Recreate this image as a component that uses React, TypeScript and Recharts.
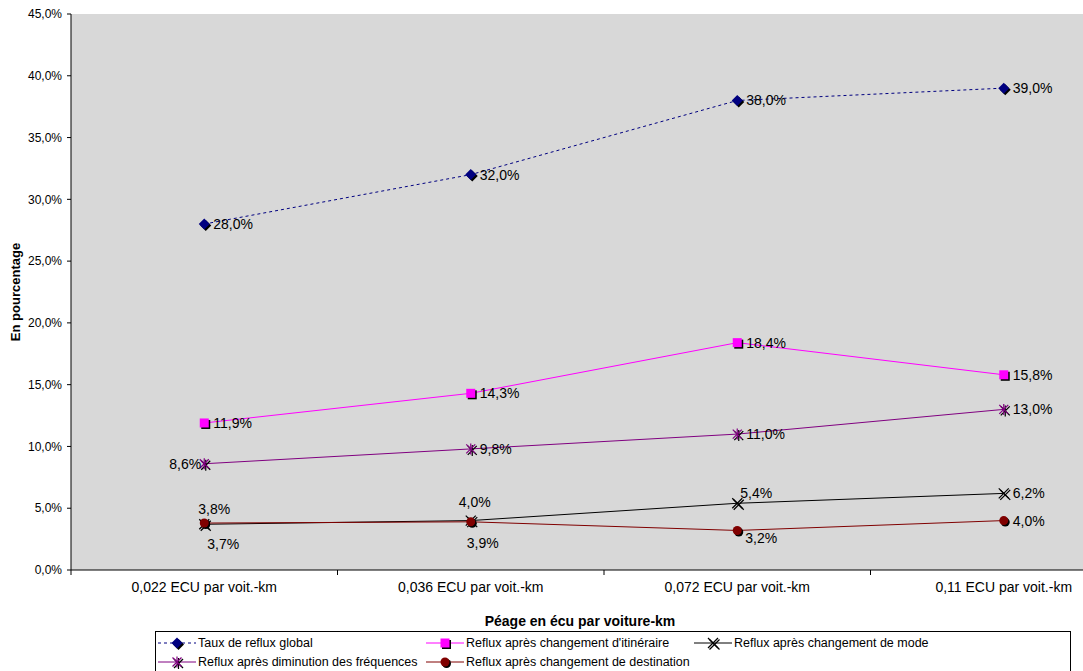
import { LineChart, Line, XAxis, YAxis, CartesianGrid, Label } from 'recharts';

// toll levels (x categories)
const categories = ['0,022 ECU par voit.-km', '0,036 ECU par voit.-km', '0,072 ECU par voit.-km', '0,11 ECU par voit.-km'];

// return-flow rates, in percent
const tauxGlobal = [28.0, 32.0, 38.0, 39.0];
const changementItineraire = [11.9, 14.3, 18.4, 15.8];
const changementMode = [3.7, 4.0, 5.4, 6.2];
const diminutionFrequences = [8.6, 9.8, 11.0, 13.0];
const changementDestination = [3.8, 3.9, 3.2, 4.0];

const yTicks = [0, 5, 10, 15, 20, 25, 30, 35, 40, 45];

const data = categories.map((cat, i) => ({
  cat,
  global: tauxGlobal[i],
  itin: changementItineraire[i],
  mode: changementMode[i],
  freq: diminutionFrequences[i],
  dest: changementDestination[i],
}));

const FONT = '"Liberation Sans", Arial, sans-serif';

const pct = (v: number) => v.toFixed(1).replace('.', ',') + '%';

// marker shapes, each with a black drop shadow
function Marker({ kind, cx, cy, color }: any) {
  const parts = (d: number, fill: string) => {
    const x = cx + d, y = cy + d;
    switch (kind) {
      case 'diamond':
        return <polygon points={`${x},${y - 5.5} ${x + 5.5},${y} ${x},${y + 5.5} ${x - 5.5},${y}`} fill={fill} />;
      case 'square':
        return <rect x={x - 4.5} y={y - 4.5} width={9} height={9} fill={fill} />;
      case 'circle':
        return <circle cx={x} cy={y} r={4.5} fill={fill} />;
      case 'cross':
        return (
          <g stroke={fill} strokeWidth={1.2}>
            <line x1={x - 5} y1={y - 5} x2={x + 5} y2={y + 5} />
            <line x1={x - 5} y1={y + 5} x2={x + 5} y2={y - 5} />
          </g>
        );
      case 'star':
        return (
          <g stroke={fill} strokeWidth={1.2}>
            <line x1={x - 4.5} y1={y - 4.5} x2={x + 4.5} y2={y + 4.5} />
            <line x1={x - 4.5} y1={y + 4.5} x2={x + 4.5} y2={y - 4.5} />
            <line x1={x} y1={y - 5.5} x2={x} y2={y + 5.5} />
          </g>
        );
    }
    return null;
  };
  return (
    <g>
      {parts(1.5, '#000')}
      {parts(0, color)}
    </g>
  );
}

type Place = [number, number, 'start' | 'middle' | 'end'];
const R: Place = [9, 0, 'start'];

const series = [
  { key: 'global', name: 'Taux de reflux global', color: '#000080', dash: '3 3', kind: 'diamond', places: [R, R, R, R] },
  { key: 'itin', name: "Reflux après changement d'itinéraire", color: '#ff00ff', dash: undefined, kind: 'square', places: [R, R, R, R] },
  { key: 'mode', name: 'Reflux après changement de mode', color: '#000000', dash: undefined, kind: 'cross', places: [[19, 20, 'middle'], [4, -19, 'middle'], [19, -10, 'middle'], R] as Place[] },
  { key: 'freq', name: 'Reflux après diminution des fréquences', color: '#800080', dash: undefined, kind: 'star', places: [[-3, 0, 'end'], R, R, R] as Place[] },
  { key: 'dest', name: 'Reflux après changement de destination', color: '#800000', dash: undefined, kind: 'circle', places: [[10, -14, 'middle'], [12, 21, 'middle'], [8, 8, 'start'], R] as Place[] },
];

const legendSlots = [
  { left: 2, top: 4 },
  { left: 270, top: 4 },
  { left: 538, top: 4 },
  { left: 2, top: 23 },
  { left: 270, top: 23 },
];

function LegendIcon({ s }: any) {
  return (
    <svg width={38} height={14} style={{ display: 'block' }}>
      <line x1={0} y1={7} x2={38} y2={7} stroke={s.color} strokeWidth={1} strokeDasharray={s.dash} />
      <Marker kind={s.kind} cx={19} cy={7} color={s.color} />
    </svg>
  );
}

// category label, plus a tick mark on the left edge of its band
function CategoryTick({ x, y, payload, index }: any) {
  const axisY = y - 12;
  const half = payload.offset || 0;
  return (
    <g>
      <line x1={x - half} y1={axisY} x2={x - half} y2={axisY + 5} stroke="#000" />
      {index === categories.length - 1 && (
        <line x1={x + half} y1={axisY} x2={x + half} y2={axisY + 5} stroke="#000" />
      )}
      <text x={x} y={y} dy="0.71em" textAnchor="middle" fontSize={14} fontFamily={FONT} fill="#000">
        {payload.value}
      </text>
    </g>
  );
}

export default function App() {
  return (
    <div style={{ position: 'absolute', left: 0, top: 0, width: 1083, height: 671, overflow: 'hidden', background: '#fff', fontFamily: FONT }}>
      <LineChart width={1140} height={671} data={data} margin={{ top: 14, right: 3, left: 0, bottom: 70 }}>
        <CartesianGrid fill="#d8d8d8" stroke="none" horizontal={false} vertical={false} />
        <XAxis
          dataKey="cat"
          scale="band"
          height={31}
          tickLine={false}
          axisLine={{ stroke: '#000' }}
          tickSize={0}
          tickMargin={12}
          tick={<CategoryTick />}
          interval={0}
        >
          <Label
            content={() => (
              <text
                x={580}
                y={621}
                textAnchor="middle"
                dominantBaseline="central"
                fontSize={14}
                fontWeight="bold"
                fontFamily={FONT}
                fill="#000"
              >
                Péage en écu par voiture-km
              </text>
            )}
          />
        </XAxis>
        <YAxis
          width={71}
          domain={[0, 45]}
          ticks={yTicks}
          interval={0}
          tickFormatter={pct}
          tickSize={4}
          tickMargin={5}
          tickLine={{ stroke: '#000' }}
          axisLine={{ stroke: '#000' }}
          tick={{ fill: '#000', fontSize: 12, fontFamily: FONT }}
        >
          <Label
            content={({ viewBox }: any) => {
              const cy = viewBox.y + viewBox.height / 2;
              return (
                <text
                  x={15}
                  y={cy}
                  transform={`rotate(-90 15 ${cy})`}
                  textAnchor="middle"
                  dominantBaseline="central"
                  fontSize={13}
                  fontWeight="bold"
                  fontFamily={FONT}
                  fill="#000"
                >
                  En pourcentage
                </text>
              );
            }}
          />
        </YAxis>
        {series.map((s) => (
          <Line
            key={s.key}
            type="linear"
            dataKey={s.key}
            stroke={s.color}
            strokeWidth={1}
            strokeDasharray={s.dash}
            isAnimationActive={false}
            activeDot={false}
            dot={(p: any) => <Marker key={`${s.key}-${p.index}`} kind={s.kind} cx={p.cx} cy={p.cy} color={s.color} />}
            label={(p: any) => {
              const [dx, dy, anchor] = s.places[p.index];
              return (
                <text
                  key={`${s.key}-l-${p.index}`}
                  x={p.x + dx}
                  y={p.y + dy}
                  textAnchor={anchor}
                  dominantBaseline="central"
                  fontSize={14}
                  fontFamily={FONT}
                  fill="#000"
                >
                  {pct(p.value)}
                </text>
              );
            }}
          />
        ))}
      </LineChart>
      <div
        style={{
          position: 'absolute',
          left: 155,
          top: 631,
          width: 916,
          height: 50,
          border: '1px solid #000',
          boxSizing: 'border-box',
          background: '#fff',
        }}
      >
        {series.map((s, i) => (
          <div
            key={s.key}
            style={{
              position: 'absolute',
              left: legendSlots[i].left,
              top: legendSlots[i].top,
              display: 'flex',
              alignItems: 'center',
              gap: 2,
              fontSize: 12.5,
              lineHeight: '14px',
              whiteSpace: 'nowrap',
            }}
          >
            <LegendIcon s={s} />
            <span>{s.name}</span>
          </div>
        ))}
      </div>
    </div>
  );
}
